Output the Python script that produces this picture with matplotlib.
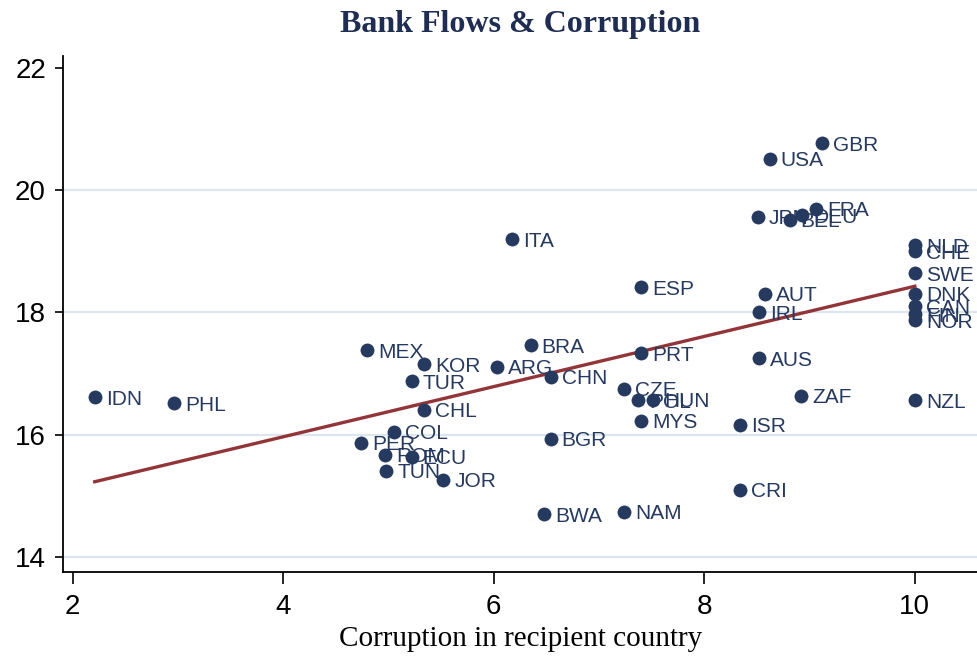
import numpy as np
import matplotlib.pyplot as plt
from matplotlib import rcParams

rcParams['font.family'] = ['Liberation Sans', 'DejaVu Sans']

# country codes, corruption score (x) and log bank flows (y)
countries = ['IDN', 'PHL', 'MEX', 'KOR', 'TUR', 'ARG', 'BRA', 'CHN', 'CHL', 'COL',
             'PER', 'ROM', 'ECU', 'TUN', 'JOR', 'BGR', 'BWA', 'NAM', 'CZE', 'POL',
             'HUN', 'MYS', 'PRT', 'ESP', 'ITA', 'ISR', 'CRI', 'ZAF', 'AUS', 'IRL',
             'AUT', 'JPN', 'BEL', 'DEU', 'FRA', 'USA', 'GBR', 'NLD', 'CHE', 'SWE',
             'DNK', 'CAN', 'FIN', 'NOR', 'NZL']
corruption = [2.21, 2.96, 4.80, 5.34, 5.22, 6.03, 6.35, 6.54, 5.34, 5.05,
              4.74, 4.97, 5.22, 4.98, 5.52, 6.54, 6.48, 7.24, 7.24, 7.37,
              7.51, 7.40, 7.40, 7.40, 6.17, 8.34, 8.34, 8.92, 8.52, 8.52,
              8.58, 8.51, 8.81, 8.93, 9.06, 8.62, 9.12, 10.0, 10.0, 10.0,
              10.0, 10.0, 10.0, 10.0, 10.0]
bank_flows = [16.61, 16.51, 17.38, 17.15, 16.87, 17.11, 17.46, 16.95, 16.41, 16.05,
              15.87, 15.67, 15.64, 15.41, 15.26, 15.93, 14.70, 14.74, 16.75, 16.56,
              16.57, 16.23, 17.33, 18.41, 19.20, 16.16, 15.10, 16.64, 17.25, 18.00,
              18.31, 19.57, 19.52, 19.59, 19.70, 20.52, 20.77, 19.10, 19.00, 18.64,
              18.31, 18.10, 17.97, 17.87, 16.56]

# fitted line
fit_intercept = 14.32
fit_slope = 0.411

x_ticks = [2, 4, 6, 8, 10]
y_ticks = [14, 16, 18, 20, 22]

navy = '#26395F'

fig, ax = plt.subplots(figsize=(9.78, 6.59), dpi=100)
fig.subplots_adjust(left=0.064, right=1.0, bottom=0.132, top=0.915)

for yt in y_ticks[:-1]:
    ax.axhline(yt, color='#dde5ef', lw=1.6, zorder=0)

ax.scatter(corruption, bank_flows, s=100, color=navy, zorder=3, linewidths=0)
for name, xv, yv in zip(countries, corruption, bank_flows):
    ax.annotate(name, (xv, yv), xytext=(8, -1.5), textcoords='offset points',
                va='center', ha='left', fontsize=15, color=navy, zorder=4)

xs = np.array([min(corruption), max(corruption)])
ax.plot(xs, fit_intercept + fit_slope * xs, color='#923438', lw=2.4, zorder=2)

ax.set_xlim(1.905, 10.6)
ax.set_ylim(13.75, 22.2)
ax.set_xticks(x_ticks)
ax.set_yticks(y_ticks)
ax.tick_params(labelsize=20, width=1.2, color='black')
ax.tick_params(axis='x', length=8.5, pad=7)
ax.tick_params(axis='y', length=6, pad=6)
ax.spines['top'].set_visible(False)
ax.spines['right'].set_visible(False)
ax.spines['left'].set_linewidth(1.3)
ax.spines['bottom'].set_linewidth(1.3)

ax.set_title('Bank Flows & Corruption', fontsize=23, fontweight='bold',
             color='#1f2d52', family=['Liberation Serif'], pad=17)
ax.set_xlabel('Corruption in recipient country', fontsize=21,
              family=['Liberation Serif'], labelpad=5)

fig.savefig('out.png', dpi=100)
